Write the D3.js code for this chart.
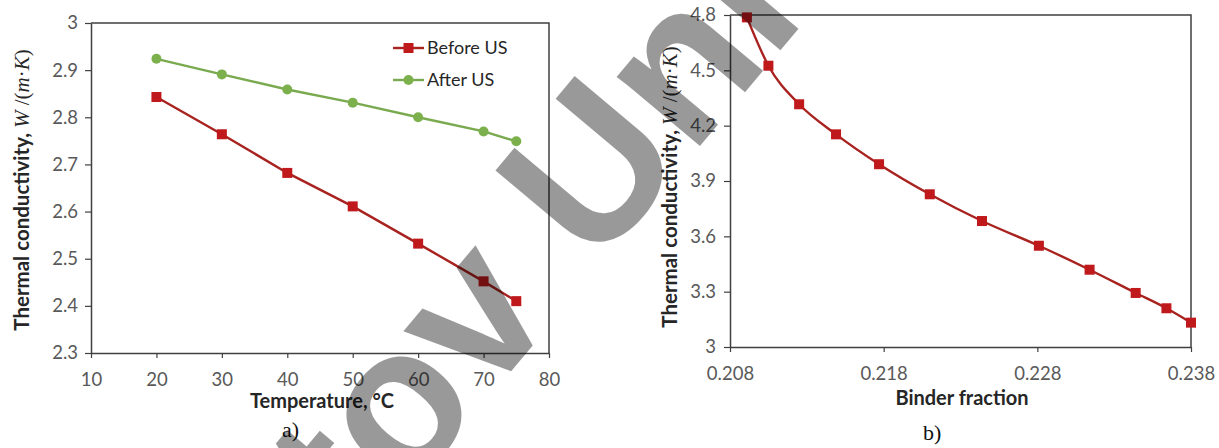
<!DOCTYPE html>
<html>
<head>
<meta charset="utf-8">
<script src="https://cdn.jsdelivr.net/npm/d3@7"></script>
<style>
  html, body { margin: 0; padding: 0; background: #fff; }
  svg { display: block; }
  .tick text { font-family: Lato, "Open Sans", sans-serif; fill: #595959; }
</style>
</head>
<body>
<svg id="chart" width="1219" height="448"></svg>
<script>
// ---------- Data ----------
const temperature = [20, 30, 40, 50, 60, 70, 75];
const beforeUS = [2.843, 2.764, 2.682, 2.611, 2.532, 2.452, 2.410];
const afterUS  = [2.924, 2.891, 2.859, 2.831, 2.800, 2.770, 2.749];
const seriesNames = ["Before US", "After US"];

const binderFraction = [0.2091, 0.2105, 0.2125, 0.2149, 0.2177, 0.2210, 0.2244, 0.2281, 0.2314, 0.2344, 0.2364, 0.2380];
const conductivityB  = [4.787, 4.525, 4.316, 4.153, 3.991, 3.828, 3.683, 3.549, 3.419, 3.293, 3.210, 3.132];

const tempTicks = [10, 20, 30, 40, 50, 60, 70, 80];
const condTicksA = [2.3, 2.4, 2.5, 2.6, 2.7, 2.8, 2.9, 3];
const binderTicks = [0.208, 0.218, 0.228, 0.238];
const condTicksB = [3, 3.3, 3.6, 3.9, 4.2, 4.5, 4.8];

// ---------- Styles ----------
const RED_LINE = "#a8221f", RED_MARK = "#c0191c";
const GREEN_LINE = "#7aaa4f", GREEN_MARK = "#7cb04d";
const AXIS = "#595959", FRAME = "#404040";
const SANS = "Lato, 'Open Sans', sans-serif";
const SERIF = "'Liberation Serif', 'DejaVu Serif', serif";

const svg = d3.select("#chart");

function drawPanel(opts) {
  const { x, y, xTicks, yTicks, xFmt, yFmt } = opts;
  const [x0, x1] = x.range();
  const [y0, y1] = y.range(); // y0 bottom, y1 top
  const g = svg.append("g");

  g.append("path")
    .attr("d", `M${x0},${y1}H${x1}V${y0}`)
    .attr("fill", "none").attr("stroke", FRAME).attr("stroke-width", 1.5);

  const xa = g.append("g").attr("transform", `translate(0,${y0})`)
    .call(d3.axisBottom(x).tickValues(xTicks).tickFormat(xFmt).tickSize(5).tickSizeOuter(0).tickPadding(opts.xPad));
  const ya = g.append("g").attr("transform", `translate(${x0},0)`)
    .call(d3.axisLeft(y).tickValues(yTicks).tickFormat(yFmt).tickSize(6).tickSizeOuter(0).tickPadding(opts.yPad));
  [xa, ya].forEach(a => {
    a.select(".domain").attr("stroke", FRAME).attr("stroke-width", 1.5);
    a.selectAll(".tick line").attr("stroke", FRAME).attr("stroke-width", 1.2);
    a.selectAll(".tick text").attr("font-size", 18.5).attr("fill", AXIS);
  });
  return g;
}

// ---------- Panel a ----------
const xA = d3.scaleLinear().domain([10, 80]).range([91, 549]);
const yA = d3.scaleLinear().domain([2.3, 3]).range([353, 23]);
const gA = drawPanel({ x: xA, y: yA, xTicks: tempTicks, yTicks: condTicksA,
  xFmt: d3.format("d"), yFmt: d => String(+d.toFixed(1)), xPad: 15, yPad: 7 });

const lineA = d3.line().x((d, i) => xA(temperature[i])).y(d => yA(d));
gA.append("path").datum(afterUS).attr("d", lineA)
  .attr("fill", "none").attr("stroke", GREEN_LINE).attr("stroke-width", 2.4);
gA.append("path").datum(beforeUS).attr("d", lineA)
  .attr("fill", "none").attr("stroke", RED_LINE).attr("stroke-width", 2.4);
gA.selectAll("circle.after").data(afterUS).join("circle")
  .attr("class", "after").attr("cx", (d, i) => xA(temperature[i])).attr("cy", d => yA(d))
  .attr("r", 5).attr("fill", GREEN_MARK);
gA.selectAll("rect.before").data(beforeUS).join("rect")
  .attr("class", "before").attr("x", (d, i) => xA(temperature[i]) - 5).attr("y", d => yA(d) - 5)
  .attr("width", 10).attr("height", 10).attr("fill", RED_MARK);

// legend
const legend = gA.append("g").attr("font-family", SANS).attr("font-size", 18).attr("fill", "#262626");
[[seriesNames[0], RED_LINE, RED_MARK, "rect", 48], [seriesNames[1], GREEN_LINE, GREEN_MARK, "circle", 80]].forEach(([name, lc, mc, shape, ly]) => {
  legend.append("line").attr("x1", 393).attr("x2", 424).attr("y1", ly).attr("y2", ly)
    .attr("stroke", lc).attr("stroke-width", 2.4);
  if (shape === "rect") legend.append("rect").attr("x", 403.5).attr("y", ly - 5).attr("width", 10).attr("height", 10).attr("fill", mc);
  else legend.append("circle").attr("cx", 408.5).attr("cy", ly).attr("r", 5).attr("fill", mc);
  legend.append("text").attr("x", 427).attr("y", ly).attr("dy", "0.36em").text(name);
});

// ---------- Panel b ----------
const xB = d3.scaleLinear().domain([0.208, 0.238]).range([730, 1191]);
const yB = d3.scaleLinear().domain([3, 4.8]).range([347, 15]);
const gB = drawPanel({ x: xB, y: yB, xTicks: binderTicks, yTicks: condTicksB,
  xFmt: d3.format(".3f"), yFmt: d => String(+d.toFixed(1)), xPad: 15, yPad: 8 });

const lineB = d3.line().curve(d3.curveMonotoneX).x((d, i) => xB(binderFraction[i])).y(d => yB(d));
gB.append("path").datum(conductivityB).attr("d", lineB)
  .attr("fill", "none").attr("stroke", RED_LINE).attr("stroke-width", 2.4);
gB.selectAll("rect.pt").data(conductivityB).join("rect")
  .attr("class", "pt").attr("x", (d, i) => xB(binderFraction[i]) - 5).attr("y", d => yB(d) - 5)
  .attr("width", 10).attr("height", 10).attr("fill", RED_MARK);

// ---------- Titles ----------
function yTitle(cx, cy) {
  const t = svg.append("text").attr("transform", `translate(${cx},${cy}) rotate(-90)`)
    .attr("text-anchor", "middle").attr("dy", "0.35em").attr("fill", "#262626");
  t.append("tspan").attr("font-family", SANS).attr("font-weight", "bold").attr("font-size", 20.5)
    .text("Thermal conductivity, ");
  const parts = [["W", true], [" /(", false], ["m", true], ["·", false], ["K", true], [")", false]];
  parts.forEach(([s, it]) => t.append("tspan").attr("font-family", SERIF)
    .attr("font-style", it ? "italic" : "normal").attr("font-size", 21).text(s));
}
yTitle(23, 190);
yTitle(671, 187);

function xTitle(cx, by, txt) {
  svg.append("text").attr("x", cx).attr("y", by).attr("text-anchor", "middle")
    .attr("font-family", SANS).attr("font-weight", "bold").attr("font-size", 20)
    .attr("fill", "#262626").text(txt);
}
xTitle(322, 408, "Temperature, °C");
xTitle(962, 405, "Binder fraction");

svg.append("text").attr("x", 282).attr("y", 437).attr("font-family", SERIF).attr("font-size", 22).attr("fill", "#111").text("a)");
svg.append("text").attr("x", 923).attr("y", 440).attr("font-family", SERIF).attr("font-size", 22).attr("fill", "#111").text("b)");

// ---------- Watermark ----------
svg.append("text")
  .attr("transform", "translate(288,637) rotate(-50)")
  .attr("font-family", "'Liberation Sans', Arial, sans-serif").attr("font-weight", "bold").attr("font-size", 205)
  .attr("fill", "#000").attr("fill-opacity", 0.4)
  .text("etov Uni");
</script>
</body>
</html>
